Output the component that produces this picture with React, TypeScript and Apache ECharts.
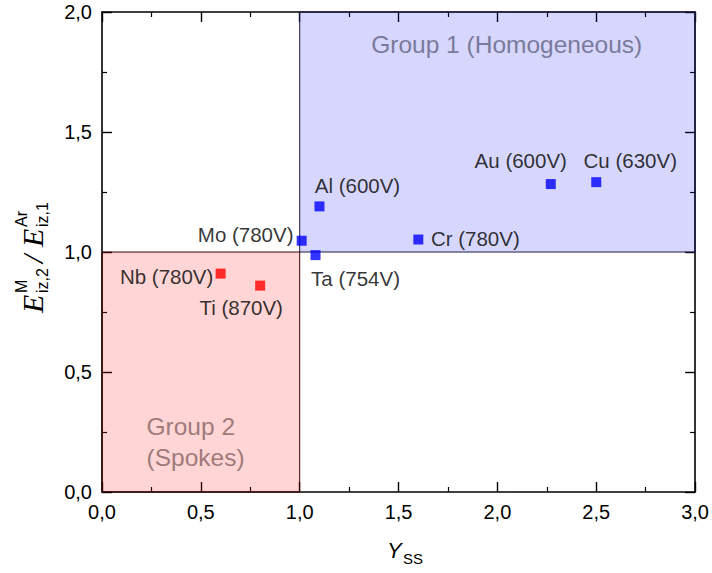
import React, { useEffect, useRef } from "react";
import * as echarts from "echarts";

// ---- data ----
const group2Labels = ["Nb (780V)", "Ti (870V)"];
const group2X = [0.6, 0.8];
const group2Y = [0.91, 0.86];

const group1Labels = ["Mo (780V)", "Ta (754V)", "Al (600V)", "Cr (780V)", "Au (600V)", "Cu (630V)"];
const group1X = [1.01, 1.08, 1.1, 1.6, 2.27, 2.5];
const group1Y = [1.047, 0.987, 1.19, 1.052, 1.283, 1.291];

const xTicks = [0, 0.5, 1, 1.5, 2, 2.5, 3];
const yTicks = [0, 0.5, 1, 1.5, 2];

const group1Area = { x0: 1, x1: 3, y0: 1, y1: 2, text: "Group 1 (Homogeneous)" };
const group2Area = { x0: 0, x1: 1, y0: 0, y1: 1, text: "Group 2\n(Spokes)" };

// label placement (offset from the point centre to the label centre, px)
const labelOffsets: Record<string, [number, number]> = {
  "Nb (780V)": [-54, 3],
  "Ti (870V)": [-19, 22],
  "Mo (780V)": [-56, -6],
  "Ta (754V)": [40, 23],
  "Al (600V)": [38, -21],
  "Cr (780V)": [57, -1],
  "Au (600V)": [-30, -24],
  "Cu (630V)": [34, -22],
};

const SANS = '"Liberation Sans", Arial, sans-serif';
const SERIF = '"Liberation Serif", "Times New Roman", serif';

const fmt = (v: number) => v.toFixed(1).replace(".", ",");

function buildPoints(labels: string[], xs: number[], ys: number[]) {
  return labels.map((name, i) => ({
    name,
    value: [xs[i], ys[i]],
    label: {
      show: true,
      position: "inside",
      offset: labelOffsets[name],
      formatter: name,
      fontSize: 20.5,
      fontFamily: SANS,
      color: "#000",
    },
  }));
}

export default function App() {
  const ref = useRef<HTMLDivElement>(null);

  useEffect(() => {
    if (!ref.current) return;
    const chart = echarts.init(ref.current, undefined, { renderer: "svg" });

    const axisCommon = {
      type: "value" as const,
      interval: 0.5,
      axisLine: { show: true, onZero: false, lineStyle: { color: "#000", width: 1.6 } },
      axisTick: { show: true, inside: true, length: 10, lineStyle: { color: "#000", width: 1.4 } },
      minorTick: { show: true, splitNumber: 2, length: 5, lineStyle: { color: "#000", width: 1.2 } },
      splitLine: { show: false },
      minorSplitLine: { show: false },
    };

    const option: any = {
      animation: false,
      backgroundColor: "#fff",
      grid: { left: 102, right: 12, top: 12, bottom: 81, containLabel: false },
      xAxis: [
        {
          ...axisCommon,
          min: xTicks[0],
          max: xTicks[xTicks.length - 1],
          position: "bottom",
          axisLabel: { show: true, margin: 10, fontSize: 20, fontFamily: SANS, color: "#000", formatter: fmt },
        },
        {
          ...axisCommon,
          min: xTicks[0],
          max: xTicks[xTicks.length - 1],
          position: "top",
          axisLabel: { show: false },
        },
      ],
      yAxis: [
        {
          ...axisCommon,
          min: yTicks[0],
          max: yTicks[yTicks.length - 1],
          position: "left",
          axisLabel: { show: true, margin: 10, fontSize: 20, fontFamily: SANS, color: "#000", formatter: fmt },
        },
        {
          ...axisCommon,
          min: yTicks[0],
          max: yTicks[yTicks.length - 1],
          position: "right",
          axisLabel: { show: false },
        },
      ],
      series: [
        {
          type: "scatter",
          name: "areas",
          data: [],
          silent: true,
          markArea: {
            silent: true,
            data: [
              [
                {
                  xAxis: group1Area.x0,
                  yAxis: group1Area.y0,
                  itemStyle: { color: "rgba(0,0,245,0.155)", borderColor: "#1c1c44", borderWidth: 1 },
                  label: {
                    show: true,
                    position: [72, 33],
                    verticalAlign: "middle",
                    align: "left",
                    formatter: group1Area.text,
                    fontSize: 24.5,
                    fontFamily: SANS,
                    color: "#7a7a9c",
                  },
                },
                { xAxis: group1Area.x1, yAxis: group1Area.y1 },
              ],
              [
                {
                  xAxis: group2Area.x0,
                  yAxis: group2Area.y0,
                  itemStyle: { color: "rgba(255,0,0,0.165)", borderColor: "#3a0000", borderWidth: 1 },
                  label: {
                    show: true,
                    position: [45, 190],
                    verticalAlign: "middle",
                    align: "left",
                    lineHeight: 31,
                    formatter: group2Area.text,
                    fontSize: 24.5,
                    fontFamily: SANS,
                    color: "#a07a7a",
                  },
                },
                { xAxis: group2Area.x1, yAxis: group2Area.y1 },
              ],
            ],
          },
        },
        {
          type: "scatter",
          name: "Group 2",
          symbol: "rect",
          symbolSize: 10,
          itemStyle: { color: "#ff0000" },
          data: buildPoints(group2Labels, group2X, group2Y),
          z: 5,
        },
        {
          type: "scatter",
          name: "Group 1",
          symbol: "rect",
          symbolSize: 10,
          itemStyle: { color: "#0000ff" },
          data: buildPoints(group1Labels, group1X, group1Y),
          z: 5,
        },
      ],
      graphic: [
        {
          type: "group",
          x: 387,
          y: 550,
          children: [
            {
              type: "text",
              x: 0,
              y: 0,
              style: { text: "Y", font: `italic 22px ${SANS}`, fill: "#000", align: "left", verticalAlign: "middle" },
            },
            {
              type: "text",
              x: 16,
              y: 8,
              style: { text: "SS", font: `15px ${SANS}`, fill: "#000", align: "left", verticalAlign: "middle" },
            },
          ],
        },
        {
          type: "group",
          x: 32,
          y: 251,
          rotation: Math.PI / 2,
          children: [
            {
              type: "text",
              x: -62,
              y: 0,
              style: { text: "E", font: `italic 30px ${SERIF}`, fill: "#000", align: "left", verticalAlign: "middle" },
            },
            {
              type: "text",
              x: -42,
              y: -11,
              style: { text: "M", font: `16px ${SANS}`, fill: "#000", align: "left", verticalAlign: "middle" },
            },
            {
              type: "text",
              x: -42,
              y: 10,
              style: { text: "iz,2", font: `16px ${SANS}`, fill: "#000", align: "left", verticalAlign: "middle" },
            },
            {
              type: "text",
              x: -12,
              y: 0,
              style: { text: "/", font: `italic 30px ${SERIF}`, fill: "#000", align: "left", verticalAlign: "middle" },
            },
            {
              type: "text",
              x: 4,
              y: 0,
              style: { text: "E", font: `italic 30px ${SERIF}`, fill: "#000", align: "left", verticalAlign: "middle" },
            },
            {
              type: "text",
              x: 24,
              y: -11,
              style: { text: "Ar", font: `16px ${SANS}`, fill: "#000", align: "left", verticalAlign: "middle" },
            },
            {
              type: "text",
              x: 24,
              y: 10,
              style: { text: "iz,1", font: `16px ${SANS}`, fill: "#000", align: "left", verticalAlign: "middle" },
            },
          ],
        },
      ],
    };

    chart.setOption(option);
    return () => chart.dispose();
  }, []);

  return (
    <div
      ref={ref}
      style={{ position: "fixed", left: 0, top: 0, width: 712, height: 573, background: "#fff" }}
    />
  );
}
